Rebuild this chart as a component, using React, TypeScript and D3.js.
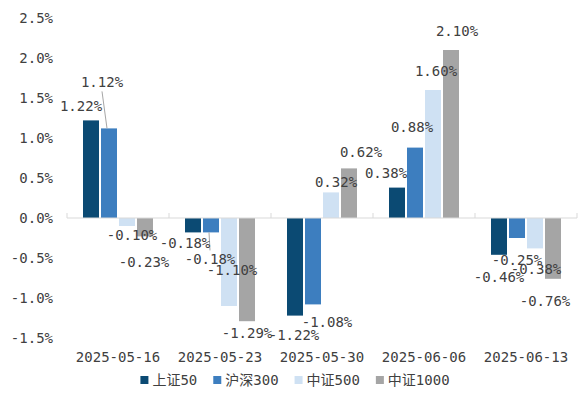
import { useRef, useEffect } from 'react';
import * as d3 from 'd3';

const CATEGORIES = ['2025-05-16', '2025-05-23', '2025-05-30', '2025-06-06', '2025-06-13'];
const SERIES = ['上证50', '沪深300', '中证500', '中证1000'];
const SH50 = [1.22, -0.18, -1.22, 0.38, -0.46];
const HS300 = [1.12, -0.18, -1.08, 0.88, -0.25];
const ZZ500 = [-0.10, -1.10, 0.32, 1.60, -0.38];
const ZZ1000 = [-0.23, -1.29, 0.62, 2.10, -0.76];
const VALUES = [SH50, HS300, ZZ500, ZZ1000];
const Y_TICKS = [-1.5, -1.0, -0.5, 0.0, 0.5, 1.0, 1.5, 2.0, 2.5];

const COLORS = ['#0B4A73', '#3D7EBF', '#CFE1F3', '#A5A5A5'];

// label nudges (Excel-style placement), [series][category] -> [dx, dy]
const NUDGE: [number, number][][] = [
  [[-10, -2], [-8, -1], [-1, 7], [-11, -3], [0, 10]],
  [[-7, -34], [-1, 15], [14, 6], [-3, -9], [0, 10]],
  [[5, -3], [3, -48], [5, 2], [3, -7], [1, 9]],
  [[-1, 14], [0, 0], [12, -4], [6, -7], [-8, 10]],
];

const FONT = '"DejaVu Sans Mono", "Noto Sans CJK SC", monospace';
const TEXT = '#404040';

export default function App() {
  const svgRef = useRef<SVGSVGElement>(null);

  useEffect(() => {
    if (!svgRef.current) return;
    const width = 582;
    const height = 396;
    const margin = { left: 67, right: 5, top: 18, bottom: 58 };

    const svg = d3.select(svgRef.current);
    svg.selectAll('*').remove();

    const x0 = d3.scaleBand().domain(CATEGORIES).range([margin.left, width - margin.right]);
    const x1 = d3.scaleBand().domain(SERIES).range([16, 86]).paddingInner(2 / 18);
    const y = d3.scaleLinear().domain([-1.5, 2.5]).range([height - margin.bottom, margin.top]);

    // y labels
    svg.append('g')
      .selectAll('text')
      .data(Y_TICKS)
      .join('text')
      .attr('x', 53)
      .attr('y', d => y(d))
      .attr('text-anchor', 'end')
      .attr('dominant-baseline', 'central')
      .attr('font-family', FONT)
      .attr('font-size', '14px')
      .attr('fill', TEXT)
      .text(d => `${d.toFixed(1)}%`);

    // bars
    VALUES.forEach((vals, si) => {
      svg.append('g')
        .selectAll('rect')
        .data(vals)
        .join('rect')
        .attr('x', (_, i) => (x0(CATEGORIES[i]) ?? 0) + (x1(SERIES[si]) ?? 0))
        .attr('y', d => y(Math.max(0, d)))
        .attr('width', x1.bandwidth())
        .attr('height', d => Math.abs(y(d) - y(0)))
        .attr('fill', COLORS[si]);
    });

    // zero axis
    svg.append('line')
      .attr('x1', margin.left).attr('x2', width - margin.right)
      .attr('y1', y(0)).attr('y2', y(0))
      .attr('stroke', '#D9D9D9');
    svg.append('g')
      .selectAll('line')
      .data(d3.range(CATEGORIES.length + 1))
      .join('line')
      .attr('x1', i => margin.left + i * x0.step())
      .attr('x2', i => margin.left + i * x0.step())
      .attr('y1', y(0) - 5).attr('y2', y(0))
      .attr('stroke', '#D9D9D9');

    // leader lines
    const cx = (si: number, ci: number) => (x0(CATEGORIES[ci]) ?? 0) + (x1(SERIES[si]) ?? 0) + x1.bandwidth() / 2;
    const labelPos = (si: number, ci: number): [number, number] => {
      const v = VALUES[si][ci];
      const [dx, dy] = NUDGE[si][ci];
      return [cx(si, ci) + dx, y(v) + (v >= 0 ? -12 : 12) + dy];
    };
    const leaders: [number, number][] = [[1, 0], [1, 1]];
    leaders.forEach(([si, ci]) => {
      const [lx, ly] = labelPos(si, ci);
      const v = VALUES[si][ci];
      svg.append('line')
        .attr('x1', lx).attr('y1', v >= 0 ? ly + 9 : ly - 9)
        .attr('x2', cx(si, ci) - 2).attr('y2', y(v))
        .attr('stroke', '#A6A6A6');
    });

    // data labels
    VALUES.forEach((vals, si) => {
      svg.append('g')
        .selectAll('text')
        .data(vals)
        .join('text')
        .attr('x', (_, i) => labelPos(si, i)[0])
        .attr('y', (_, i) => labelPos(si, i)[1])
        .attr('text-anchor', 'middle')
        .attr('dominant-baseline', 'central')
        .attr('font-family', FONT)
        .attr('font-size', '14px')
        .attr('fill', TEXT)
        .text(d => `${d.toFixed(2)}%`);
    });

    // x labels
    svg.append('g')
      .selectAll('text')
      .data(CATEGORIES)
      .join('text')
      .attr('x', d => (x0(d) ?? 0) + x0.bandwidth() / 2)
      .attr('y', 357)
      .attr('text-anchor', 'middle')
      .attr('dominant-baseline', 'central')
      .attr('font-family', FONT)
      .attr('font-size', '14px')
      .attr('fill', TEXT)
      .text(d => d);

    // legend
    const legend = svg.append('g');
    let off = 0;
    SERIES.forEach((s, i) => {
      const g = legend.append('g').attr('transform', `translate(${off},0)`);
      g.append('rect').attr('x', 0).attr('y', -4).attr('width', 8).attr('height', 8).attr('fill', COLORS[i]);
      const t = g.append('text')
        .attr('x', 12).attr('y', 0)
        .attr('dominant-baseline', 'central')
        .attr('font-family', FONT)
        .attr('font-size', '14px')
        .attr('fill', TEXT)
        .text(s);
      const w = (t.node() as SVGTextElement).getComputedTextLength();
      off += 12 + w + 16;
    });
    const total = off - 16;
    legend.attr('transform', `translate(${295 - total / 2},380)`);
  }, []);

  return (
    <svg
      ref={svgRef}
      width={582}
      height={396}
      style={{ position: 'absolute', left: 0, top: 0, background: '#fff' }}
    />
  );
}
